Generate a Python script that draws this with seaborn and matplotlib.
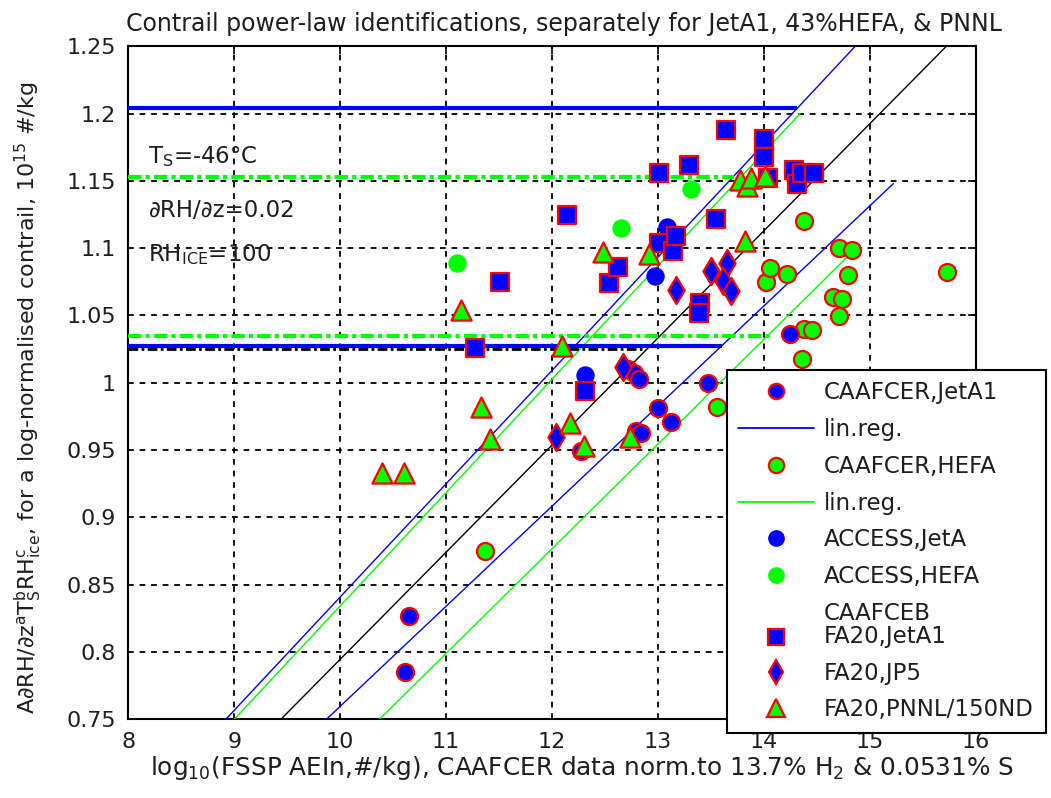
import numpy as np
import pandas as pd
import matplotlib
matplotlib.use("Agg")
import matplotlib.pyplot as plt
from matplotlib.lines import Line2D
from matplotlib.legend_handler import HandlerLine2D
import seaborn as sns

# ---------------- data ----------------
caafcer_jeta1_x = [10.61, 10.65, 12.27, 12.72, 12.77, 12.82, 12.79, 12.84, 13.00, 13.12, 13.47, 14.24]
caafcer_jeta1_y = [0.785, 0.827, 0.949, 1.010, 1.007, 1.003, 0.964, 0.963, 0.981, 0.971, 1.000, 1.036]

caafcer_hefa_x = [11.37, 13.56, 14.02, 14.06, 14.22, 14.36, 14.38, 14.45, 14.38, 14.65, 14.74, 14.71, 14.71, 14.83, 14.79, 15.73]
caafcer_hefa_y = [0.875, 0.982, 1.075, 1.085, 1.081, 1.018, 1.040, 1.039, 1.120, 1.064, 1.062, 1.050, 1.100, 1.099, 1.080, 1.082]

access_jeta_x = [12.31, 12.97, 13.08]
access_jeta_y = [1.006, 1.079, 1.116]

access_hefa_x = [11.10, 12.65, 13.31]
access_hefa_y = [1.089, 1.115, 1.144]

fa20_jeta1_x = [11.27, 11.51, 12.14, 12.54, 12.62, 12.31, 13.01, 13.14, 13.17, 13.01, 13.29, 13.55,
                13.40, 13.39, 13.64, 14.00, 14.00, 14.04, 14.28, 14.31, 14.36, 14.47]
fa20_jeta1_y = [1.026, 1.075, 1.125, 1.074, 1.086, 0.994, 1.104, 1.098, 1.109, 1.156, 1.162, 1.122,
                1.059, 1.052, 1.188, 1.181, 1.168, 1.152, 1.158, 1.148, 1.156, 1.156]

fa20_jp5_x = [12.04, 12.67, 13.17, 13.50, 13.65, 13.61, 13.69]
fa20_jp5_y = [0.960, 1.012, 1.069, 1.083, 1.089, 1.076, 1.068]

fa20_pnnl_x = [10.39, 10.60, 11.14, 11.33, 11.41, 12.09, 12.17, 12.30, 12.48, 12.73, 12.91,
               13.82, 13.77, 13.84, 13.88, 14.01]
fa20_pnnl_y = [0.933, 0.933, 1.054, 0.982, 0.958, 1.027, 0.970, 0.953, 1.097, 0.960, 1.096,
               1.105, 1.151, 1.146, 1.152, 1.154]

# regression / bound lines (endpoints)
blue_upper_x = [8.92, 14.86]
blue_upper_y = [0.75, 1.25]
blue_lower_x = [9.87, 15.22]
blue_lower_y = [0.75, 1.148]
green_upper_x = [9.00, 14.34]
green_upper_y = [0.75, 1.200]
green_lower_x = [10.37, 14.83]
green_lower_y = [0.75, 1.097]
black_x = [9.44, 15.72]
black_y = [0.75, 1.25]

# horizontal levels
blue_level_y = [1.204, 1.027]
blue_level_xend = [14.31, 13.60]
green_level_y = [1.153, 1.035]
green_level_xend = [13.72, 14.08]
black_level_y = [1.025]
black_level_xend = [12.85]

title_text = "Contrail power-law identifications, separately for JetA1, 43%HEFA, & PNNL"
xlabel_text = r"log$_{10}$(FSSP AEIn,#/kg), CAAFCER data norm.to 13.7% H$_2$ & 0.0531% S"
ylabel_text = (r"A∂RH/∂z$^{\mathrm{a}}$T$_{\mathrm{S}}^{\mathrm{b}}$RH$_{\mathrm{ice}}^{\mathrm{c}}$"
               r", for a log-normalised contrail, 10$^{15}$ #/kg")

# ---------------- style ----------------
sns.set_style("white")
plt.rcParams["font.family"] = ["DejaVu Sans"]
plt.rcParams["mathtext.fontset"] = "dejavusans"

TXT = "#1e1e1e"
BLUE = (0, 0, 1)
GREEN = (0, 1, 0)
RED = (1, 0, 0)

fig = plt.figure(figsize=(10.51, 7.98), dpi=100)
ax = fig.add_axes([128.3 / 1051, 1 - 719.3 / 798, (976 - 128.3) / 1051, (719.3 - 46.3) / 798])

# thin regression lines
for xs, ys, c in [(blue_upper_x, blue_upper_y, BLUE), (blue_lower_x, blue_lower_y, BLUE),
                  (green_upper_x, green_upper_y, GREEN), (green_lower_x, green_lower_y, GREEN),
                  (black_x, black_y, "black")]:
    sns.lineplot(x=xs, y=ys, color=c, lw=1.0, ax=ax, sort=False, estimator=None, zorder=3)

# horizontal levels
ax.hlines(black_level_y, 8, black_level_xend, colors="black", lw=2.0, linestyles=(0, (3.5, 1.2, 1, 1.2)), zorder=3)
ax.hlines(blue_level_y, 8, blue_level_xend, colors=[BLUE], lw=3.0, zorder=3.5)
ax.hlines(green_level_y, 8, green_level_xend, colors=[GREEN], lw=3.0, linestyles=(0, (3.2, 1.0, 1.0, 1.0)), zorder=3.5)

def scat(xs, ys, marker, size, face, edge, lw):
    sns.scatterplot(x=xs, y=ys, marker=marker, s=size, color=face, edgecolor=edge,
                    linewidth=lw, ax=ax, legend=False, zorder=4)

scat(caafcer_hefa_x, caafcer_hefa_y, "o", 150, GREEN, RED, 1.6)
scat(caafcer_jeta1_x, caafcer_jeta1_y, "o", 150, BLUE, RED, 1.6)
scat(access_jeta_x, access_jeta_y, "o", 150, BLUE, BLUE, 1.0)
scat(access_hefa_x, access_hefa_y, "o", 150, GREEN, GREEN, 1.0)
scat(fa20_jeta1_x, fa20_jeta1_y, "s", 160, BLUE, RED, 1.6)
scat(fa20_jp5_x, fa20_jp5_y, "d", 190, BLUE, RED, 1.6)
scat(fa20_pnnl_x, fa20_pnnl_y, "^", 210, GREEN, RED, 1.6)

# axes
ax.set_xlim(8, 16)
ax.set_ylim(0.75, 1.25)
ax.set_xticks(np.arange(8, 17, 1))
ax.set_yticks(np.arange(0.75, 1.2501, 0.05))
ax.set_xticklabels([f"{v:d}" for v in range(8, 17)])
ax.set_yticklabels(["0.75", "0.8", "0.85", "0.9", "0.95", "1", "1.05", "1.1", "1.15", "1.2", "1.25"])
ax.grid(True, color="black", ls=(0, (3.2, 3.2)), lw=1.3)
ax.set_axisbelow(True)
ax.tick_params(direction="in", length=6, width=1.2, top=True, right=True, labelsize=16, pad=9,
               colors="black", labelcolor=TXT)
for sp in ax.spines.values():
    sp.set_linewidth(1.5)
    sp.set_color("black")

ax.set_title(title_text, fontsize=17, color=TXT, pad=11, x=0.514)
ax.set_xlabel(xlabel_text, fontsize=17.8, color=TXT)
ax.xaxis.set_label_coords(0.535, -0.052)
ax.set_ylabel(ylabel_text, fontsize=16.0, color=TXT)
ax.yaxis.set_label_coords(-0.100, 0.478)

# annotations
ax.text(8.19, 1.168, r"T$_{\mathrm{S}}$=-46°C", fontsize=16.5, va="center", ha="left", color=TXT)
ax.text(8.19, 1.128, "∂RH/∂z=0.02", fontsize=16.5, va="center", ha="left", color=TXT)
ax.text(8.19, 1.095, r"RH$_{\mathrm{ICE}}$=100", fontsize=16.5, va="center", ha="left", color=TXT, zorder=5)

# legend
class ShiftHandler(HandlerLine2D):
    def __init__(self, dy, **kw):
        super().__init__(**kw)
        self.dy = dy

    def create_artists(self, legend, orig_handle, xdescent, ydescent, width, height, fontsize, trans):
        arts = super().create_artists(legend, orig_handle, xdescent, ydescent, width, height, fontsize, trans)
        for a in arts:
            a.set_ydata(np.asarray(a.get_ydata(), dtype=float) - self.dy)
        return arts

LFS = 16.5
h_cj = Line2D([], [], ls="none", marker="o", ms=11, mfc=BLUE, mec=RED, mew=1.6)
h_bl = Line2D([], [], color=BLUE, lw=1.3)
h_ch = Line2D([], [], ls="none", marker="o", ms=11, mfc=GREEN, mec=RED, mew=1.6)
h_gl = Line2D([], [], color=GREEN, lw=1.3)
h_aj = Line2D([], [], ls="none", marker="o", ms=11, mfc=BLUE, mec=BLUE)
h_ah = Line2D([], [], ls="none", marker="o", ms=11, mfc=GREEN, mec=GREEN)
h_fj = Line2D([], [], ls="none", marker="s", ms=11, mfc=BLUE, mec=RED, mew=1.6)
h_fp = Line2D([], [], ls="none", marker="d", ms=12, mfc=BLUE, mec=RED, mew=1.6)
h_fn = Line2D([], [], ls="none", marker="^", ms=13, mfc=GREEN, mec=RED, mew=1.6)

handles = [h_cj, h_bl, h_ch, h_gl, h_aj, h_ah, h_fj, h_fp, h_fn]
labels = ["CAAFCER,JetA1", "lin.reg.", "CAAFCER,HEFA", "lin.reg.", "ACCESS,JetA", "ACCESS,HEFA",
          "CAAFCEB\nFA20,JetA1", "FA20,JP5", "FA20,PNNL/150ND"]

leg = ax.legend(handles, labels, loc="upper left", bbox_to_anchor=(0.706, 0.519),
                fontsize=LFS, frameon=True, fancybox=False, framealpha=1, edgecolor="black",
                handlelength=3.3, handletextpad=0.45, labelspacing=0.6, borderpad=0.5,
                borderaxespad=0.0,
                handler_map={h_fj: ShiftHandler(LFS * 0.5)})
leg.get_frame().set_linewidth(1.5)
for t in leg.get_texts():
    t.set_color(TXT)
    t.set_linespacing(1.0)
leg.set_zorder(10)

fig.savefig("out.png", dpi=100)
